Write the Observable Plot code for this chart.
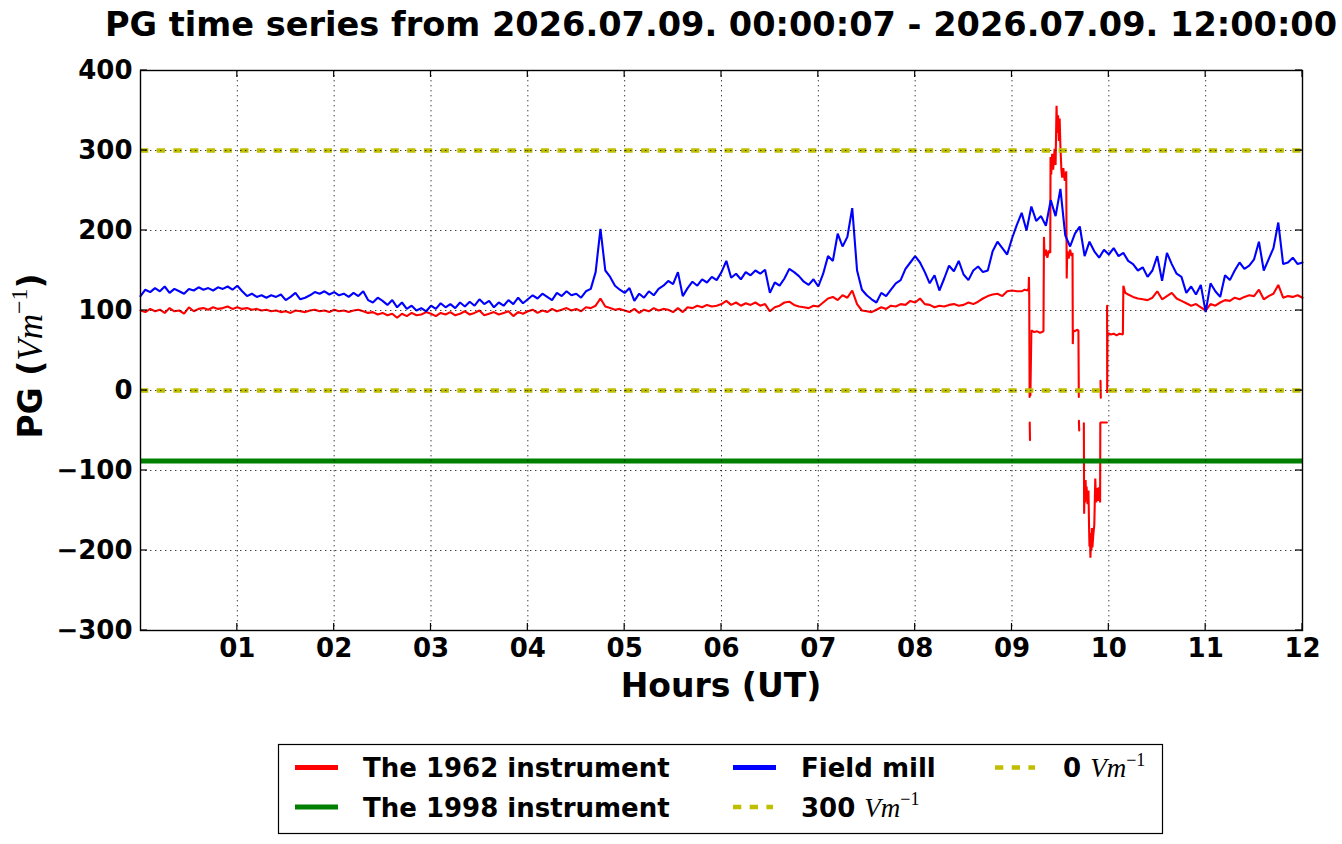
<!DOCTYPE html>
<html>
<head>
<meta charset="utf-8">
<script src="https://cdn.jsdelivr.net/npm/d3@7"></script>
<script src="https://cdn.jsdelivr.net/npm/@observablehq/plot@0.6"></script>
<style>
  html, body { margin: 0; padding: 0; background: #fff; }
  #wrap { position: relative; width: 1342px; height: 844px; overflow: hidden; }
</style>
</head>
<body>
<div id="wrap"></div>
<script>
// ---------------- data ----------------
const titleText = "PG time series from 2026.07.09. 00:00:07 - 2026.07.09. 12:00:00";
const xLabel = "Hours (UT)";
const sampleStep = 0.05; // hours between samples of the gridded series
const hourTicks = [1, 2, 3, 4, 5, 6, 7, 8, 9, 10, 11, 12];
const gridHours = [1, 2, 3, 4, 5, 6, 7, 8, 9, 10, 11];
const pgTicks = [-300, -200, -100, 0, 100, 200, 300, 400];
const gridPG = [-200, -100, 0, 100, 200, 300];

// Field mill, 0.00 .. 12.00 h
const fieldMill = [
  118,126,123,128,124,130,122,127,124,121,127,125,129,126,128,125,129,127,130,126,
  131,124,118,121,117,119,116,119,117,120,113,117,122,114,116,119,123,121,124,120,
  123,119,121,117,122,118,124,113,110,116,112,107,113,104,110,102,106,100,103,99,
  106,102,109,104,108,103,110,105,111,106,114,108,112,104,110,106,113,108,116,109,
  114,119,115,121,117,113,122,118,124,119,121,116,124,127,148,202,150,142,131,126,
  122,128,112,121,116,124,119,127,131,137,133,148,118,128,136,131,139,135,142,138,
  148,162,141,146,139,148,144,150,146,151,122,135,131,140,152,148,143,136,132,139,
  130,146,168,162,196,180,192,228,150,126,119,114,110,122,118,126,134,138,152,160,
  168,160,148,134,144,125,140,156,149,162,145,138,150,155,148,150,174,186,178,170,
  190,207,222,200,230,212,218,206,238,218,252,194,180,196,205,168,186,174,166,176,
  170,178,168,172,162,158,150,154,142,150,168,137,172,158,146,142,122,130,120,132,
  98,134,124,117,144,138,150,160,152,156,164,186,150,164,178,210,158,160,166,158,
  160
];

// The 1962 instrument, 0.00 .. 9.05 h
const inst1962Early = [
  100,98,102,99,101,97,103,99,100,96,104,99,102,103,101,104,102,103,105,102,
  104,102,103,101,102,100,101,99,100,98,99,97,100,99,98,100,101,99,100,98,
  101,99,100,98,100,101,99,97,98,95,97,94,96,91,96,93,97,94,95,98,
  96,93,97,95,98,94,96,99,95,97,100,94,96,98,95,97,99,93,98,96,
  99,101,97,100,98,102,99,101,103,100,102,99,104,103,106,115,105,103,101,102,
  100,98,102,97,101,99,103,100,102,101,98,103,98,104,103,106,104,107,105,106,
  108,112,107,110,106,109,107,110,106,108,99,104,106,110,111,107,105,104,103,106,
  105,110,115,117,113,119,116,125,108,100,99,98,101,104,102,106,105,108,107,112,
  110,115,108,107,104,106,105,107,108,106,107,110,108,111,115,118,120,121,118,124,
  125,124
];

// The 1962 instrument during the disturbed period: separate pieces [hour, PG]
const inst1962Event = [
  [[9.10,124],[9.13,126],[9.16,125],[9.172,128],[9.175,142],[9.178,118],[9.182,-8]],
  [[9.183,-40],[9.186,-62]],
  [[9.19,-6],[9.2,75],[9.23,73],[9.26,74],[9.29,72],[9.325,74],[9.33,192],[9.336,168],[9.35,176],
   [9.365,166],[9.38,175],[9.395,172],[9.398,292],[9.405,270],[9.415,296],[9.425,276],[9.44,302],
   [9.45,282],[9.46,356],[9.468,322],[9.476,344],[9.484,312],[9.492,340],[9.50,305],[9.51,276],
   [9.518,266],[9.53,278],[9.545,262],[9.56,274],[9.565,140],[9.57,174],[9.585,165],[9.60,176],
   [9.615,168],[9.625,172],[9.628,58],[9.632,75],[9.65,74],[9.67,76],[9.686,75],[9.69,-8]],
  [[9.691,-38],[9.694,-50]],
  [[9.742,-41],[9.745,-154],[9.75,-115],[9.755,-140],[9.76,-112],[9.765,-136],[9.77,-120],[9.78,-142],
   [9.79,-125],[9.795,-165],[9.80,-195],[9.805,-178],[9.81,-209],[9.815,-185],[9.82,-200],[9.825,-172],
   [9.83,-196],[9.84,-180],[9.85,-168],[9.86,-110],[9.865,-128],[9.87,-140],[9.875,-122],[9.88,-135],
   [9.885,-125],[9.89,-138],[9.895,-121],[9.90,-132],[9.905,-127],[9.91,-140],[9.912,-40],[9.98,-40]],
  [[9.914,12],[9.917,-9]],
  [[9.982,106],[9.983,-3],[9.986,72],[10.02,70],[10.05,71],[10.08,69],[10.11,71],[10.145,70],[10.15,131],[10.17,122]]
];

// The 1962 instrument, 10.20 .. 12.00 h
const inst1962LateStart = 10.2;
const inst1962Late = [
  120,117,115,114,113,116,124,114,118,122,115,112,109,106,108,104,
  100,108,106,110,113,112,116,114,117,119,118,126,114,118,121,132,116,118,117,119,
  116
];

const inst1998Level = -88;
const referenceLevels = [300, 0];

const colors = { r1962: "#ff0000", r1998: "#008000", mill: "#0000ff", ref: "#bfbf00" };

// ---------------- build tables ----------------
const millData = fieldMill.map((v, i) => ({ h: i * sampleStep, v }));

const pieces = inst1962Event.map(p => p.slice());
pieces[0] = inst1962Early.map((v, i) => [i * sampleStep, v]).concat(pieces[0]);
pieces[pieces.length - 1] = pieces[pieces.length - 1].concat(
  inst1962Late.map((v, i) => [inst1962LateStart + i * sampleStep, v]));
const data1962 = pieces.flatMap((p, k) => p.map(([h, v]) => ({ h, v, seg: k })));

// ---------------- plot ----------------
const font = "'DejaVu Sans', sans-serif";
const chart = Plot.plot({
  width: 1342,
  height: 844,
  marginLeft: 140,
  marginRight: 40,
  marginTop: 70,
  marginBottom: 214,
  style: { background: "#fff", fontFamily: font, color: "#000" },
  x: { domain: [0, 12] },
  y: { domain: [-300, 400] },
  marks: [
    Plot.line(data1962, { x: "h", y: "v", z: "seg", stroke: colors.r1962, strokeWidth: 2.1, strokeLinejoin: "miter" }),
    Plot.ruleY([inst1998Level], { stroke: colors.r1998, strokeWidth: 5 }),
    Plot.line(millData, { x: "h", y: "v", stroke: colors.mill, strokeWidth: 2.1, strokeLinejoin: "miter" }),
    Plot.ruleY(referenceLevels, { stroke: colors.ref, strokeWidth: 4.6, strokeDasharray: "8.3,8.4" }),
    Plot.gridX(gridHours, { stroke: "#000", strokeOpacity: 0.85, strokeWidth: 0.9, strokeDasharray: "1.4,3.6" }),
    Plot.gridY(gridPG, { stroke: "#000", strokeOpacity: 0.85, strokeWidth: 0.9, strokeDasharray: "1.4,3.6" }),
    Plot.frame({ stroke: "#000", strokeWidth: 1.4 }),
    Plot.axisX(hourTicks, { anchor: "bottom", tickSize: 0, tickPadding: 8, label: null,
      tickFormat: d => String(d).padStart(2, "0"), fontSize: 26, fontWeight: "bold", fill: "#000" }),
    Plot.axisY(pgTicks, { anchor: "left", tickSize: 0, tickPadding: 8, label: null,
      fontSize: 26, fontWeight: "bold", fill: "#000" })
  ]
});
document.getElementById("wrap").appendChild(chart);

// ---------------- decorations using the plot's own scales ----------------
const sx = chart.scale("x"), sy = chart.scale("y");
const svg = d3.select(chart);
const X0 = sx.apply(0), X1 = sx.apply(12), Y0 = sy.apply(-300), Y1 = sy.apply(400);
const tk = svg.append("g").attr("stroke", "#000").attr("stroke-width", 1.2);
hourTicks.forEach(h => {
  const x = sx.apply(h);
  tk.append("line").attr("x1", x).attr("x2", x).attr("y1", Y0).attr("y2", Y0 - 7);
  tk.append("line").attr("x1", x).attr("x2", x).attr("y1", Y1).attr("y2", Y1 + 7);
});
pgTicks.forEach(v => {
  const y = sy.apply(v);
  tk.append("line").attr("x1", X0).attr("x2", X0 + 7).attr("y1", y).attr("y2", y);
  tk.append("line").attr("x1", X1).attr("x2", X1 - 7).attr("y1", y).attr("y2", y);
});

const midX = (X0 + X1) / 2, midY = (Y0 + Y1) / 2;
svg.append("text").attr("x", midX).attr("y", 36).attr("text-anchor", "middle")
  .style("font", `bold 33.6px ${font}`).attr("fill", "#000").text(titleText);
svg.append("text").attr("x", midX).attr("y", 697).attr("text-anchor", "middle")
  .style("font", `bold 33px ${font}`).attr("fill", "#000").text(xLabel);

function mathUnit(sel, size) {
  sel.append("tspan").style("font", `italic ${size}px 'Liberation Serif', serif`).text("Vm");
  sel.append("tspan").attr("dy", -size * 0.42).style("font", `${Math.round(size * 0.68)}px 'Liberation Serif', serif`).text("\u22121");
}
const yl = svg.append("text").attr("transform", `translate(42,${midY + 6}) rotate(-90)`)
  .attr("text-anchor", "middle").attr("fill", "#000");
yl.append("tspan").style("font", `bold 33px ${font}`).text("PG (");
mathUnit(yl, 35);
yl.append("tspan").attr("dy", 35 * 0.42).style("font", `bold 33px ${font}`).text(")");

// legend
const lg = svg.append("g").attr("text-anchor", "start");
lg.append("rect").attr("x", 278.5).attr("y", 744.5).attr("width", 884).attr("height", 89)
  .attr("fill", "#fff").attr("stroke", "#000").attr("stroke-width", 1.2);
const legendItems = [
  { x: 295, row: 0, color: colors.r1962, dash: null, label: "The 1962 instrument" },
  { x: 295, row: 1, color: colors.r1998, dash: null, label: "The 1998 instrument" },
  { x: 733, row: 0, color: colors.mill, dash: null, label: "Field mill" },
  { x: 733, row: 1, color: colors.ref, dash: "8.3,8.4", label: "300", unit: true },
  { x: 995, row: 0, color: colors.ref, dash: "8.3,8.4", label: "0", unit: true }
];
legendItems.forEach(it => {
  const cy = 767.5 + it.row * 39.5;
  lg.append("line").attr("x1", it.x).attr("x2", it.x + (it.dash ? 40 : 43)).attr("y1", cy).attr("y2", cy)
    .attr("stroke", it.color).attr("stroke-width", it.dash ? 4.6 : 5)
    .attr("stroke-dasharray", it.dash);
  const t = lg.append("text").attr("x", it.x + 68).attr("y", cy + 9.5).attr("fill", "#000")
    .attr("text-anchor", "start");
  t.append("tspan").style("font", `bold 26px ${font}`).text(it.label);
  if (it.unit) {
    t.append("tspan").style("font", `bold 26px ${font}`).text("\u00a0");
    mathUnit(t, 27);
  }
});
</script>
</body>
</html>
